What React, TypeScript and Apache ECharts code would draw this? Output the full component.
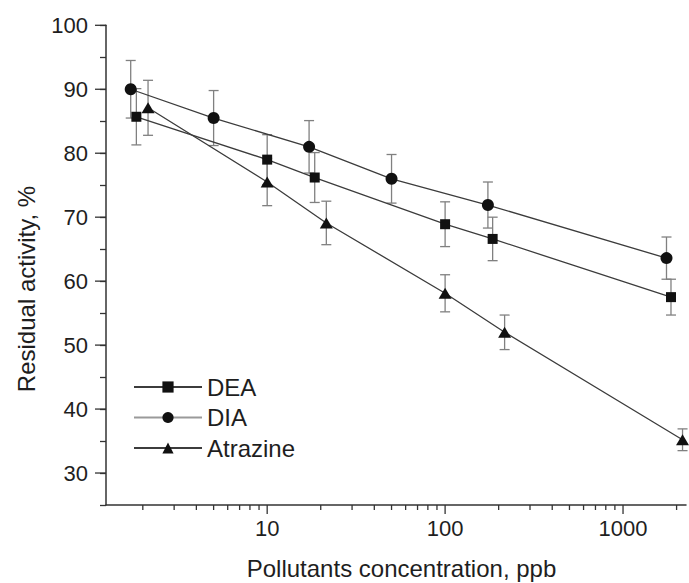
import React, { useEffect, useRef } from 'react';
import * as echarts from 'echarts';

// ---- data ----
const seriesNames = ['DEA', 'DIA', 'Atrazine'];

const deaX = [1.84, 10, 18.5, 100, 185, 1860];
const deaY = [85.7, 79, 76.2, 68.9, 66.6, 57.5];
const deaErr = [4.4, 3.9, 3.9, 3.5, 3.4, 2.8];

const diaX = [1.71, 5, 17.2, 50, 174, 1755];
const diaY = [90, 85.5, 81, 76, 71.9, 63.6];
const diaErr = [4.5, 4.3, 4.1, 3.8, 3.6, 3.3];

const atrX = [2.14, 10, 21.5, 100, 216, 2160];
const atrY = [87.1, 75.5, 69.1, 58.1, 52, 35.2];
const atrErr = [4.3, 3.7, 3.4, 2.9, 2.7, 1.7];

const xMin = 1.242;
const xMax = 2259;
const yMin = 25;
const yMax = 100;
const xMajorTicks = [10, 100, 1000];
const xMinorTicks = [2, 3, 4, 5, 6, 7, 8, 9, 20, 30, 40, 50, 60, 70, 80, 90, 200, 300, 400, 500, 600, 700, 800, 900, 2000];
const yMajorTicks = [30, 40, 50, 60, 70, 80, 90, 100];

const FONT = '"Liberation Sans", Arial, Helvetica, sans-serif';
const TEXT = '#1e1e1e';
const AXIS = '#333';

function pairs(xs: number[], ys: number[]) {
  return xs.map((x, i) => [x, ys[i]]);
}
function triples(xs: number[], ys: number[], es: number[]) {
  return xs.map((x, i) => [x, ys[i], es[i]]);
}

function errorSeries(name: string, data: number[][]) {
  return {
    type: 'custom',
    name,
    coordinateSystem: 'cartesian2d',
    silent: true,
    clip: false,
    z: 2,
    data,
    renderItem: (params: any, api: any) => {
      const x = api.value(0);
      const y = api.value(1);
      const e = api.value(2);
      const top = api.coord([x, y + e]);
      const bot = api.coord([x, y - e]);
      const st = { stroke: '#808080', lineWidth: 1.3 };
      const cw = 5;
      return {
        type: 'group',
        children: [
          { type: 'line', shape: { x1: top[0], y1: top[1], x2: bot[0], y2: bot[1] }, style: st },
          { type: 'line', shape: { x1: top[0] - cw, y1: top[1], x2: top[0] + cw, y2: top[1] }, style: st },
          { type: 'line', shape: { x1: bot[0] - cw, y1: bot[1], x2: bot[0] + cw, y2: bot[1] }, style: st },
        ],
      };
    },
  };
}

function lineSeries(name: string, data: number[][], symbol: string, size: any) {
  return {
    type: 'line',
    name,
    data,
    symbol,
    symbolSize: size,
    showSymbol: true,
    z: 3,
    itemStyle: { color: '#111' },
    lineStyle: { color: '#3c3c3c', width: 1.3 },
    emphasis: { disabled: true },
  };
}

export default function App() {
  const ref = useRef<HTMLDivElement>(null);

  useEffect(() => {
    if (!ref.current) return;
    const chart = echarts.init(ref.current, null, { renderer: 'svg' });

    const tickData: number[][] = [
      ...xMinorTicks.map((v) => [v, yMin, 0]),
      ...xMajorTicks.map((v) => [v, yMin, 1]),
      ...yMajorTicks.map((v) => [xMin, v, 2]),
    ];

    const option: any = {
      animation: false,
      backgroundColor: '#fff',
      grid: { left: 106, right: 0, top: 25.3, bottom: 78, containLabel: false },
      xAxis: {
        type: 'log',
        logBase: 10,
        min: xMin,
        max: xMax,
        axisLine: { show: true, lineStyle: { color: AXIS, width: 1.5 } },
        axisTick: { show: false },
        splitLine: { show: false },
        axisLabel: {
          interval: 0,
          margin: 12,
          color: TEXT,
          fontSize: 22,
          fontFamily: FONT,
          formatter: (v: number) => {
            for (const t of xMajorTicks) if (Math.abs(v - t) / t < 1e-6) return String(t);
            return '';
          },
        },
      },
      yAxis: {
        type: 'value',
        min: yMin,
        max: yMax,
        interval: 5,
        axisLine: { show: true, lineStyle: { color: AXIS, width: 1.5 } },
        axisTick: { show: true, length: 6, lineStyle: { color: AXIS, width: 1.3 } },
        splitLine: { show: false },
        axisLabel: {
          margin: 18,
          color: TEXT,
          fontSize: 22,
          fontFamily: FONT,
          formatter: (v: number) => (v % 10 === 0 && v >= 30 ? String(v) : ''),
        },
      },
      legend: {
        show: true,
        orient: 'vertical',
        left: 133,
        top: 375,
        itemWidth: 68,
        itemHeight: 14,
        itemGap: 6.5,
        padding: 0,
        selectedMode: false,
        data: [
          { name: 'DEA' },
          { name: 'DIA', lineStyle: { color: '#9a9a9a' } },
          { name: 'Atrazine' },
        ],
        textStyle: { color: TEXT, fontSize: 24, fontFamily: FONT, lineHeight: 24 },
      },
      graphic: [
        {
          type: 'text',
          x: 401.5,
          y: 568,
          style: {
            text: 'Pollutants concentration, ppb',
            fill: TEXT,
            font: `24px ${FONT}`,
            textAlign: 'center',
            textVerticalAlign: 'middle',
          },
        },
        {
          type: 'text',
          x: 26,
          y: 289,
          rotation: Math.PI / 2,
          style: {
            text: 'Residual activity, %',
            fill: TEXT,
            font: `24px ${FONT}`,
            textAlign: 'center',
            textVerticalAlign: 'middle',
          },
        },
      ],
      series: [
        {
          type: 'custom',
          name: 'ticks',
          coordinateSystem: 'cartesian2d',
          silent: true,
          clip: false,
          z: 1,
          data: tickData,
          renderItem: (params: any, api: any) => {
            const kind = api.value(2);
            const p = api.coord([api.value(0), api.value(1)]);
            const st = { stroke: AXIS, lineWidth: 1.3 };
            if (kind === 2) {
              return { type: 'line', shape: { x1: p[0] - 11, y1: p[1], x2: p[0], y2: p[1] }, style: st };
            }
            const len = kind === 1 ? 9 : 5;
            return { type: 'line', shape: { x1: p[0], y1: p[1], x2: p[0], y2: p[1] + len }, style: st };
          },
        },
        errorSeries('DEA err', triples(deaX, deaY, deaErr)),
        errorSeries('DIA err', triples(diaX, diaY, diaErr)),
        errorSeries('Atrazine err', triples(atrX, atrY, atrErr)),
        lineSeries(seriesNames[0], pairs(deaX, deaY), 'rect', 10),
        lineSeries(seriesNames[1], pairs(diaX, diaY), 'circle', 12),
        lineSeries(seriesNames[2], pairs(atrX, atrY), 'triangle', [13, 11]),
      ],
    };

    chart.setOption(option);
    return () => chart.dispose();
  }, []);

  return (
    <div
      ref={ref}
      style={{ position: 'absolute', left: 0, top: 0, width: 689, height: 583, background: '#fff' }}
    />
  );
}
